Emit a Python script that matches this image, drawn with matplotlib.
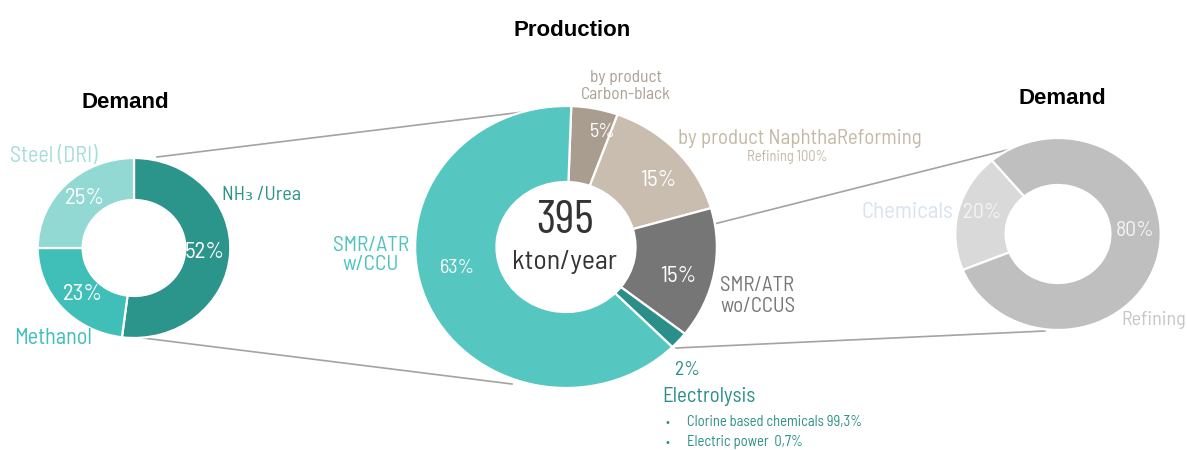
import matplotlib
matplotlib.use("Agg")
import matplotlib.pyplot as plt

# hydrogen demand / production split
left_labels = ["NH₃ /Urea", "Methanol", "Steel (DRI)"]
left_values = [52, 23, 25]
left_colors = ["#2b958b", "#3fbfb7", "#93d9d3"]

prod_labels = ["by product\nCarbon-black", "by product NaphthaReforming",
               "SMR/ATR\nwo/CCUS", "Electrolysis", "SMR/ATR\nw/CCU"]
prod_values = [5, 15, 15, 2, 63]
prod_colors = ["#a99d90", "#c8bdaf", "#767676", "#2a8f88", "#56c6c0"]
prod_total = 395

right_labels = ["Chemicals", "Refining"]
right_values = [20, 80]
right_colors = ["#d9d9d9", "#bfbfbf"]

electrolysis_uses = ["Clorine based chemicals 99,3%", "Electric power  0,7%"]

W, H = 1187, 450
SX = 1.07  # donuts come out slightly wider than tall

CF = ["Barlow Semi Condensed", "DejaVu Sans"]
NARROW = ["Barlow Condensed", "DejaVu Sans"]
BOLD = ["Liberation Sans", "DejaVu Sans"]


def P(x, y):
    return x / SX, H - y


def txt(x, y, s, size, color, ha="center", va="center", family=None, weight="normal", **kw):
    ax.text(*P(x, y), s, fontsize=size, color=color, ha=ha, va=va,
            family=family or CF, weight=weight, **kw)


fig = plt.figure(figsize=(W / 100, H / 100), dpi=100)
ax = fig.add_axes([0, 0, 1, 1])

wp = dict(edgecolor="white", linewidth=1.6)

# left demand donut
ax.pie(left_values, colors=left_colors, startangle=90, counterclock=False,
       center=P(134, 248), radius=90, frame=True,
       wedgeprops=dict(width=42, **wp))

# production donut
ax.pie(prod_values, colors=prod_colors, startangle=88, counterclock=False,
       center=P(566, 247), radius=141, frame=True,
       wedgeprops=dict(width=76, **wp))

# right demand donut
ax.pie(right_values, colors=right_colors, startangle=130, counterclock=True,
       center=P(1058, 234), radius=96, frame=True,
       wedgeprops=dict(width=47, **wp))

ax.set_aspect("auto")
ax.set_xlim(0, W / SX)
ax.set_ylim(0, H)
ax.axis("off")

# connector lines
for (x0, y0), (x1, y1) in [((157, 157), (523, 112)), ((143, 338), (512, 384)),
                           ((714, 224), (1007, 150)), ((676, 348), (1045, 331))]:
    xa, ya = P(x0, y0)
    xb, yb = P(x1, y1)
    ax.plot([xa, xb], [ya, yb], color="#a3a3a3", lw=1.2, zorder=0)

# titles
txt(125, 102, "Demand", 16, "black", family=BOLD, weight="bold")
txt(572, 30, "Production", 16, "black", family=BOLD, weight="bold")
txt(1062, 98, "Demand", 16, "black", family=BOLD, weight="bold")

# left donut labels
txt(10, 157, left_labels[2], 16, "#a6dfda", ha="left")
txt(222, 195, left_labels[0], 14.5, "#2b958b", ha="left")
txt(14, 339, left_labels[1], 16, "#3fbfb7", ha="left")
txt(205, 253, f"{left_values[0]}%", 16.5, "white")
txt(83, 295, f"{left_values[1]}%", 16.5, "white")
txt(85, 199, f"{left_values[2]}%", 16.5, "white")

# production labels
txt(626, 86, prod_labels[0], 12.5, "#ab9f92", linespacing=1.2)
txt(678, 139, prod_labels[1], 15, "#c4b8a7", ha="left")
txt(787, 157, "Refining 100%", 10.5, "#c4b8a7")
txt(720, 296, prod_labels[2], 15, "#777777", ha="left", linespacing=1.15)
txt(371, 255, prod_labels[4], 15.5, "#4fc3bd", linespacing=1.05)
txt(603, 132, f"{prod_values[0]}%", 14.5, "white")
txt(658, 180, f"{prod_values[1]}%", 16.5, "white")
txt(678, 277, f"{prod_values[2]}%", 16.5, "white")
txt(457, 268, f"{prod_values[4]}%", 14.5, "white")
txt(687, 370, f"{prod_values[3]}%", 14, "#2a8f88")
txt(662, 396, prod_labels[3], 15, "#2a8f88", ha="left")
for i, use in enumerate(electrolysis_uses):
    txt(665, 422 + 20 * i, "•", 9, "#2a8f88", ha="left")
    txt(687, 422 + 20 * i, use, 10.5, "#2a8f88", ha="left")
txt(565, 221, str(prod_total), 34, "#333333", family=NARROW)
txt(565, 262, "kton/year", 20, "#333333")

# right donut labels
txt(953, 212, right_labels[0], 16.5, "#d8e3ee", ha="right")
txt(982, 212, f"{right_values[0]}%", 15.5, "#f4f4f4")
txt(1135, 230, f"{right_values[1]}%", 15.5, "#f4f4f4")
txt(1121, 320, right_labels[1], 14.5, "#c6c6c6", ha="left")

fig.savefig("out.png", dpi=100)
